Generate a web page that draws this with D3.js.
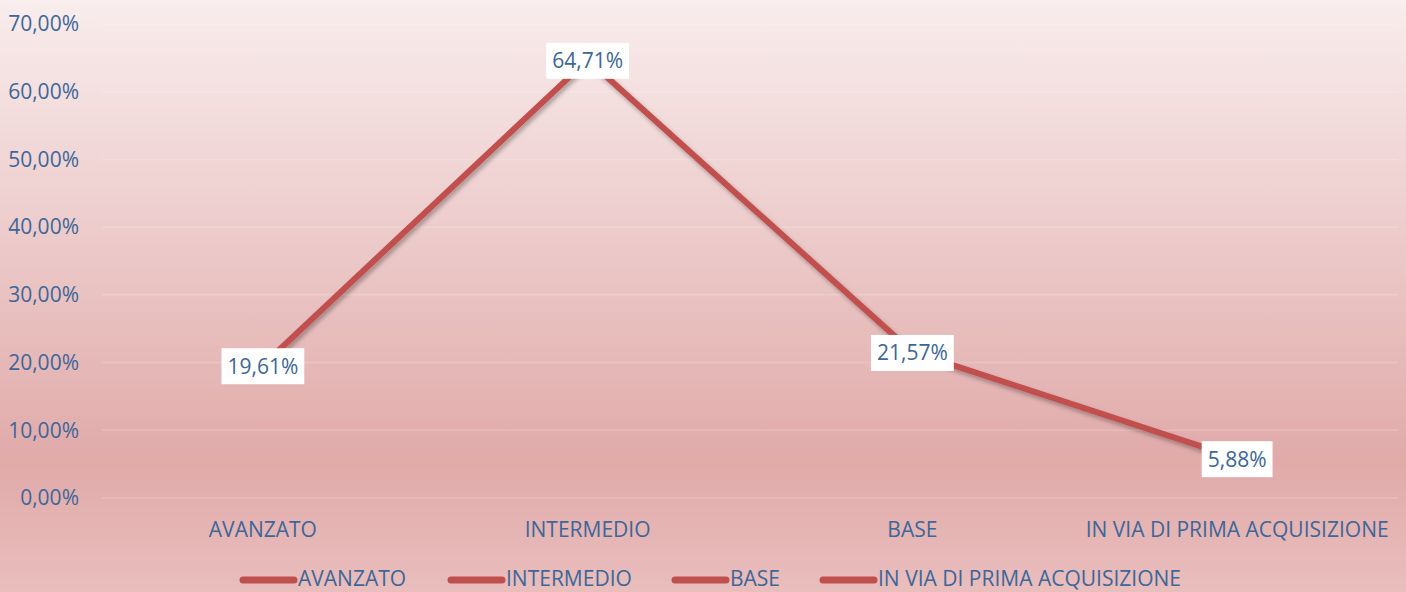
<!DOCTYPE html>
<html><head><meta charset="utf-8">
<script src="https://cdn.jsdelivr.net/npm/d3@7"></script>
<style>html,body{margin:0;padding:0;overflow:hidden;}svg{display:block;}</style>
</head><body>
<script>
const categories = ["AVANZATO","INTERMEDIO","BASE","IN VIA DI PRIMA ACQUISIZIONE"];
const values = [19.61, 64.71, 21.57, 5.88];
const yTicks = [0,10,20,30,40,50,60,70];
const legendItems = ["AVANZATO","INTERMEDIO","BASE","IN VIA DI PRIMA ACQUISIZIONE"];

const W = 1406, H = 592;
const font = "'Open Sans', sans-serif";
const fs = 21;
const textColor = "#3d6699";
const lineColor = "#c0504d";
const fmt = v => v.toFixed(2).replace(".", ",") + "%";

const svg = d3.select("body").append("svg").attr("width", W).attr("height", H);
const defs = svg.append("defs");
const g = defs.append("linearGradient").attr("id","bg").attr("x1",0).attr("y1",0).attr("x2",0).attr("y2",1);
g.append("stop").attr("offset","0").attr("stop-color","#f9eded");
g.append("stop").attr("offset","0.78").attr("stop-color","#e0aaa9");
g.append("stop").attr("offset","1").attr("stop-color","#e9bebd");
const f = defs.append("filter").attr("id","sh").attr("x","-10%").attr("y","-10%").attr("width","120%").attr("height","130%");
f.append("feDropShadow").attr("dx",2).attr("dy",3).attr("stdDeviation",2).attr("flood-color","#000").attr("flood-opacity",0.3);

svg.append("rect").attr("width",W).attr("height",H).attr("fill","url(#bg)");

const x = d3.scaleBand().domain(categories).range([100.5, 1399.5]);
const y = d3.scaleLinear().domain([0,70]).range([498, 24]);

// gridlines
svg.append("g").selectAll("line").data(yTicks).join("line")
  .attr("x1",102).attr("x2",1398)
  .attr("y1",d=>y(d)).attr("y2",d=>y(d))
  .attr("stroke","#ffffff").attr("stroke-opacity",0.18).attr("stroke-width",1.5);

// y axis
const yAxis = svg.append("g").attr("transform","translate(79,0)")
  .call(d3.axisLeft(y).tickValues(yTicks).tickSize(0).tickPadding(0).tickFormat(fmt));
yAxis.select(".domain").remove();
yAxis.selectAll("text").attr("font-family",font).attr("font-size",fs).attr("fill",textColor);

// x axis
const xAxis = svg.append("g").attr("transform","translate(0,518)")
  .call(d3.axisBottom(x).tickSize(0).tickPadding(0));
xAxis.select(".domain").remove();
xAxis.selectAll("text").attr("font-family",font).attr("font-size",fs).attr("fill",textColor).attr("dy","0.35em").attr("y",12);

// line
const line = d3.line().x((d,i)=>x(categories[i]) + x.bandwidth()/2).y(d=>y(d));
svg.append("path").datum(values).attr("d",line)
  .attr("fill","none").attr("stroke",lineColor).attr("stroke-width",6)
  .attr("stroke-linejoin","round").attr("filter","url(#sh)");

// labels
const lab = svg.append("g").selectAll("g").data(values).join("g")
  .attr("transform",(d,i)=>`translate(${x(categories[i]) + x.bandwidth()/2},${y(d)+1})`);
lab.append("rect").attr("x",-43).attr("y",-18).attr("width",86).attr("height",36).attr("fill","#fff");
lab.append("text").attr("text-anchor","middle").attr("dy","0.35em")
  .attr("font-family",font).attr("font-size",fs).attr("fill",textColor).text(fmt);
lab.each(function(d){
  const t = d3.select(this).select("text").node().getBBox();
  d3.select(this).select("rect").attr("x",-t.width/2-6).attr("width",t.width+12);
});

// legend
const legendX = [240, 448, 672, 820];
const lg = svg.append("g").selectAll("g").data(legendItems).join("g")
  .attr("transform",(d,i)=>`translate(${legendX[i]},579)`);
lg.append("line").attr("x1",3).attr("x2",54).attr("y1",1).attr("y2",1)
  .attr("stroke",lineColor).attr("stroke-width",7).attr("stroke-linecap","round");
lg.append("text").attr("x",58).attr("dy","0.35em").attr("font-family",font).attr("font-size",fs)
  .attr("fill",textColor).text(d=>d);
</script>
</body></html>
